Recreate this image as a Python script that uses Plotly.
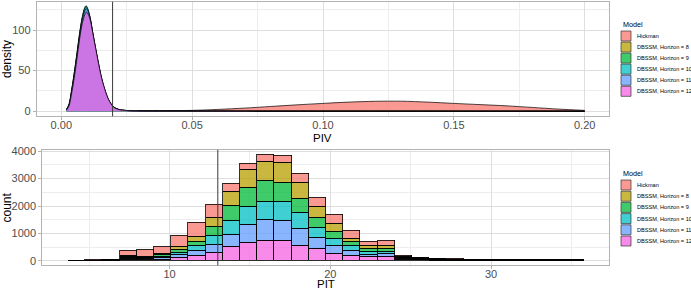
import plotly.graph_objects as go

W, H = 691, 290

# ---------------- data ----------------
model_names = ["Hickman", "DBSSM, Horizon = 8", "DBSSM, Horizon = 9",
               "DBSSM, Horizon = 10", "DBSSM, Horizon = 11", "DBSSM, Horizon = 12"]
model_colors = ["#F8766D", "#B79F00", "#00BA38", "#00BFC4", "#619CFF", "#F564E3"]

# PIV density curves
piv_hick_x = [0.002, 0.01, 0.02, 0.03, 0.04, 0.05, 0.06, 0.07, 0.08, 0.09, 0.10,
              0.11, 0.12, 0.13, 0.14, 0.15, 0.16, 0.17, 0.18, 0.19, 0.20]
piv_hick_y = [0.0, 0.05, 0.1, 0.2, 0.5, 1.0, 2.2, 3.8, 5.8, 7.8, 9.6,
              11.2, 12.2, 12.3, 11.2, 9.6, 8.1, 6.6, 4.6, 2.6, 1.0]

piv_dbssm_x = [0.002, 0.003, 0.004, 0.005, 0.006, 0.007, 0.008, 0.009, 0.0095, 0.010,
               0.011, 0.012, 0.013, 0.014, 0.015, 0.016, 0.018, 0.020, 0.022, 0.025,
               0.03, 0.05, 0.10, 0.15, 0.20]
piv_h8_y = [2, 9, 27, 48, 71, 95, 114, 126, 127, 125, 113, 95, 77, 60, 45, 32, 14, 5, 2, 0.8, 0.3, 0.1, 0.05, 0.02, 0]
piv_h9_y = [2, 9, 27, 48, 72, 96, 116, 128, 130, 127, 115, 96, 78, 61, 45, 32, 14, 5, 2, 0.8, 0.3, 0.1, 0.05, 0.02, 0]
piv_h10_y = [2, 8, 26, 47, 70, 95, 115, 127, 129, 127, 116, 97, 79, 62, 46, 33, 14, 5, 2, 0.8, 0.3, 0.1, 0.05, 0.02, 0]
piv_h11_y = [2, 8, 25, 45, 68, 92, 112, 124, 126, 125, 115, 97, 79, 62, 46, 33, 14, 5, 2, 0.8, 0.3, 0.1, 0.05, 0.02, 0]
piv_h12_y = [1, 7, 23, 42, 65, 89, 108, 119, 122, 121, 113, 97, 80, 63, 47, 34, 15, 5, 2, 0.8, 0.3, 0.1, 0.05, 0.02, 0]
piv_vline = 0.0196

# PIT histogram (30 bins)
pit_bin_centers = [4.235, 5.305, 6.375, 7.445, 8.515, 9.585, 10.655, 11.725, 12.795, 13.865,
                   14.935, 16.005, 17.075, 18.145, 19.215, 20.285, 21.355, 22.425, 23.495, 24.565,
                   25.635, 26.705, 27.775, 28.845, 29.915, 30.985, 32.055, 33.125, 34.195, 35.265]
pit_bin_width = 1.07
pit_hick = [2, 3, 5, 200, 245, 270, 430, 500, 470, 310, 245, 225, 265, 330, 350, 345, 292, 165, 170,
            32, 20, 15, 10, 8, 8, 5, 5, 8, 5, 5]
pit_h8 = [2, 3, 5, 35, 30, 50, 100, 170, 330, 505, 630, 725, 725, 585, 378, 300, 135, 110, 120,
          32, 20, 15, 10, 8, 8, 5, 5, 8, 5, 5]
pit_h9 = [3, 4, 5, 35, 32, 52, 90, 170, 360, 535, 707, 738, 683, 500, 366, 238, 150, 105, 98,
          32, 20, 15, 10, 8, 8, 5, 5, 8, 5, 5]
pit_h10 = [3, 4, 5, 35, 30, 50, 95, 165, 310, 520, 670, 690, 683, 598, 390, 250, 160, 98, 98,
           32, 20, 15, 10, 8, 8, 5, 5, 8, 5, 5]
pit_h11 = [3, 3, 5, 35, 32, 55, 90, 170, 305, 445, 646, 756, 756, 603, 408, 305, 180, 98, 110,
           32, 20, 15, 10, 8, 8, 5, 5, 8, 5, 5]
pit_h12 = [2, 3, 5, 38, 33, 45, 120, 200, 285, 515, 662, 725, 719, 549, 421, 256, 195, 134, 134,
           30, 20, 15, 10, 8, 8, 5, 5, 8, 5, 5]
pit_vline = 13.0

# ---------------- style helpers ----------------
ALPHA = 0.75


def rgba(hexc, a=ALPHA):
    hexc = hexc.lstrip("#")
    r, g, b = int(hexc[0:2], 16), int(hexc[2:4], 16), int(hexc[4:6], 16)
    return f"rgba({r},{g},{b},{a})"


def px(x):
    return x / W


def py(y):
    return (H - y) / H


FONT = "Liberation Sans, Arial, sans-serif"
TICKC = "#4D4D4D"
BORDER = "#B3B3B3"
GRID = "#DEDEDE"

fig = go.Figure()

# density traces (top panel)
dens_y = [piv_hick_y, piv_h8_y, piv_h9_y, piv_h10_y, piv_h11_y, piv_h12_y]
dens_x = [piv_hick_x] + [piv_dbssm_x] * 5
for name, col, xs, ys in zip(model_names, model_colors, dens_x, dens_y):
    fig.add_trace(go.Scatter(
        x=xs, y=ys, mode="lines", name=name, fill="tozeroy",
        fillcolor=rgba(col), line=dict(color="black", width=0.7, shape="spline", smoothing=0.8),
        xaxis="x", yaxis="y", showlegend=False, hoverinfo="skip"))

# histogram traces (bottom panel), stacked: Hickman on top
hist_vals = [pit_hick, pit_h8, pit_h9, pit_h10, pit_h11, pit_h12]
for name, col, vals in reversed(list(zip(model_names, model_colors, hist_vals))):
    fig.add_trace(go.Bar(
        x=pit_bin_centers, y=vals, width=[pit_bin_width] * len(pit_bin_centers),
        name=name, marker=dict(color=rgba(col), line=dict(color="black", width=0.8)),
        xaxis="x2", yaxis="y2", showlegend=False, hoverinfo="skip"))

x1_dom = [px(36.7), px(609.3)]
y1_dom = [py(116.3), py(1.7)]
x2_dom = [px(42.3), px(609.3)]
y2_dom = [py(265.3), py(149.7)]

axis_common = dict(
    showline=True, mirror=True, linecolor=BORDER, linewidth=1,
    showgrid=True, gridcolor=GRID, gridwidth=0.8,
    ticks="outside", ticklen=3, tickcolor=BORDER, tickwidth=1,
    tickfont=dict(family=FONT, size=11, color=TICKC),
    zeroline=False, automargin=False,
)
minor_style = dict(showgrid=True, gridcolor="#EDEDED", gridwidth=0.6)

fig.update_layout(
    width=W, height=H, margin=dict(l=0, r=0, t=0, b=0),
    paper_bgcolor="white", plot_bgcolor="white",
    barmode="stack", bargap=0, showlegend=False,
    xaxis=dict(domain=x1_dom, anchor="y", range=[-0.0094, 0.2094],
               tickvals=[0, 0.05, 0.10, 0.15, 0.20], ticktext=["0.00", "0.05", "0.10", "0.15", "0.20"],
               minor=dict(tickvals=[0.025, 0.075, 0.125, 0.175], **minor_style),
               ticklabelstandoff=-5, **axis_common),
    yaxis=dict(domain=y1_dom, anchor="x", range=[-6.3, 134.9],
               tickvals=[0, 50, 100],
               minor=dict(tickvals=[25, 75, 125], **minor_style),
               **axis_common),
    xaxis2=dict(domain=x2_dom, anchor="y2", range=[2.08, 37.36],
                tickvals=[10, 20, 30],
                minor=dict(tickvals=[5, 15, 25, 35], **minor_style),
                ticklabelstandoff=-5, **axis_common),
    yaxis2=dict(domain=y2_dom, anchor="x2", range=[-168, 4058],
                tickvals=[0, 1000, 2000, 3000, 4000],
                minor=dict(tickvals=[500, 1500, 2500, 3500], **minor_style),
                **axis_common),
)

# reference vertical lines
fig.add_shape(type="line", xref="x", yref="y domain", x0=piv_vline, x1=piv_vline, y0=0, y1=1,
              line=dict(color="#3A3A3A", width=1))
fig.add_shape(type="line", xref="x2", yref="y2 domain", x0=pit_vline, x1=pit_vline, y0=0, y1=1,
              line=dict(color="#3A3A3A", width=1))

# axis titles
title_font = dict(family=FONT, size=12, color="black")
fig.add_annotation(text="PIV", x=(x1_dom[0] + x1_dom[1]) / 2, y=py(138), xref="paper", yref="paper",
                   showarrow=False, font=dict(family=FONT, size=11.5, color="black"),
                   xanchor="center", yanchor="middle")
fig.add_annotation(text="PIT", x=(x2_dom[0] + x2_dom[1]) / 2, y=py(284), xref="paper", yref="paper",
                   showarrow=False, font=dict(family=FONT, size=11.5, color="black"),
                   xanchor="center", yanchor="middle")
fig.add_annotation(text="density", x=px(7), y=py(59), xref="paper", yref="paper", textangle=-90,
                   showarrow=False, font=title_font, xanchor="center", yanchor="middle")
fig.add_annotation(text="count", x=px(7), y=py(207.5), xref="paper", yref="paper", textangle=-90,
                   showarrow=False, font=title_font, xanchor="center", yanchor="middle")

# legends (drawn for both panels)
for title_y, first_top, step in [(24, 31, 11.06), (173.3, 180, 11.2)]:
    fig.add_annotation(text="Model", x=px(620.5), y=py(title_y), xref="paper", yref="paper",
                       showarrow=False, font=dict(family=FONT, size=7.2, color="black"),
                       xanchor="left", yanchor="middle")
    for i, (name, col) in enumerate(zip(model_names, model_colors)):
        top = first_top + i * step
        fig.add_shape(type="rect", xref="paper", yref="paper",
                      x0=px(621), x1=px(631), y0=py(top + 10), y1=py(top),
                      fillcolor=rgba(col), line=dict(color="#333333", width=0.7))
        fig.add_annotation(text=name, x=px(635.3), y=py(top + 5), xref="paper", yref="paper",
                           showarrow=False, font=dict(family=FONT, size=5.6, color="black"),
                           xanchor="left", yanchor="middle")

fig.write_html("out.html")
